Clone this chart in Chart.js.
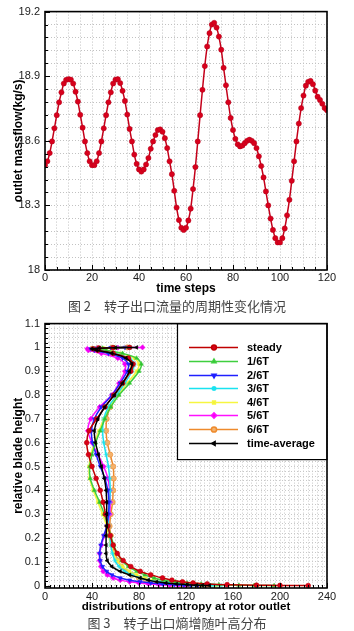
<!DOCTYPE html>
<html>
<head>
<meta charset="utf-8">
<script src="https://cdn.jsdelivr.net/npm/chart.js@4.4.1/dist/chart.umd.min.js"></script>
<style>
  html, body { margin: 0; padding: 0; background: #fff; width: 354px; height: 631px; overflow: hidden; }
  .box { position: absolute; left: 0; width: 354px; }
  #topBox { top: 0; height: 300px; }
  #botBox { top: 312px; height: 304px; }
  .cap { position: absolute; left: 0; width: 354px; text-align: center; font-family: "Noto Sans CJK SC", sans-serif; font-size: 13px; line-height: 16px; color: #444; }
</style>
</head>
<body>
<div class="box" id="topBox"><canvas id="flowChart"></canvas></div>
<div class="cap" style="top:298px">图 2　转子出口流量的周期性变化情况</div>
<div class="box" id="botBox"><canvas id="entropyChart"></canvas></div>
<div class="cap" style="top:615px">图 3　转子出口熵增随叶高分布</div>

<script>
// ─── Data: Fig.2 outlet massflow vs time step ───
const timeSteps = Array.from({ length: 121 }, (_, i) => i);
const massflow = [
  18.487, 18.505, 18.543, 18.597, 18.658, 18.719, 18.779, 18.825, 18.866, 18.883,
  18.886, 18.884, 18.866, 18.828, 18.782, 18.721, 18.661, 18.597, 18.543, 18.505,
  18.487, 18.487, 18.505, 18.543, 18.597, 18.658, 18.719, 18.779, 18.825, 18.866,
  18.884, 18.886, 18.868, 18.832, 18.785, 18.722, 18.655, 18.597, 18.536, 18.493,
  18.467, 18.457, 18.467, 18.490, 18.520, 18.563, 18.597, 18.627, 18.650, 18.653,
  18.642, 18.612, 18.566, 18.505, 18.445, 18.368, 18.290, 18.232, 18.196, 18.186,
  18.196, 18.230, 18.285, 18.376, 18.478, 18.597, 18.719, 18.837, 18.947, 19.038,
  19.100, 19.140, 19.148, 19.126, 19.084, 19.023, 18.939, 18.858, 18.779, 18.706,
  18.650, 18.609, 18.584, 18.574, 18.578, 18.589, 18.600, 18.605, 18.600, 18.589,
  18.566, 18.528, 18.483, 18.430, 18.365, 18.300, 18.239, 18.186, 18.148, 18.128,
  18.128, 18.148, 18.193, 18.254, 18.326, 18.414, 18.505, 18.597, 18.680, 18.752,
  18.810, 18.856, 18.874, 18.878, 18.863, 18.833, 18.805, 18.790, 18.772, 18.752,
  18.742
];
const flowTicksY = [18, 18.3, 18.6, 18.9, 19.2];
const flowTicksX = [0, 20, 40, 60, 80, 100, 120];

// ─── Data: Fig.3 entropy vs relative blade height ───
const heights = [
  0, 0.001, 0.002, 0.004, 0.007, 0.011, 0.016, 0.023, 0.032, 0.045, 0.06, 0.08, 0.105, 0.135, 0.17, 0.21, 0.25,
  0.3, 0.35, 0.4, 0.45, 0.5, 0.55, 0.6, 0.65, 0.7, 0.75, 0.8, 0.85, 0.9,
  0.93, 0.955, 0.975, 0.988, 0.994, 0.997, 0.999, 1.0
];
const seriesNames = ['steady', '1/6T', '2/6T', '3/6T', '4/6T', '5/6T', '6/6T', 'time-average'];
const steady = [
  224, 200, 180, 155, 138, 126, 117, 108, 100, 90, 81, 73, 66.5, 61.5, 58, 55.5, 53.5,
  51.5, 49.5, 47, 43.5, 40, 37, 35.5, 37.5, 44, 51, 58.5, 66, 73,
  75, 71, 58, 45, 41, 46, 58, 72
];
const t1 = [
  195, 178, 165, 148, 133, 121, 111, 101, 93, 85, 78, 71, 65.5, 61.5, 58.5, 56, 53.5,
  50.5, 46.5, 42, 38.5, 38, 40, 43, 47, 51, 56, 63, 72, 80,
  82, 78, 66, 52, 46, 49, 59, 72
];
const t2 = [
  130, 124, 118, 110, 100, 90, 81, 72, 64, 57, 52.5, 49, 47, 46.5, 47.5, 50, 52.5,
  54, 54.5, 53.5, 51, 47, 43.5, 40.5, 39.5, 42, 48, 57, 64, 70,
  71, 66, 54, 42, 39, 44, 56, 68
];
const t3 = [
  150, 143, 136, 127, 116, 106, 97, 88, 81, 74, 68, 63, 59.5, 57.5, 56, 55, 54,
  54, 55, 55.5, 55, 54, 52, 50, 49, 50, 54, 61, 68, 74,
  76, 72, 60, 47, 42, 46, 58, 72
];
const t4 = [
  145, 140, 134, 126, 117, 108, 100, 92, 85, 78, 72, 66, 61.5, 58.5, 56, 54, 52.5,
  49, 45, 41, 38, 37.5, 39, 42, 46, 50, 55, 62, 70, 78,
  80, 76, 64, 52, 47, 50, 60, 72
];
const t5 = [
  120, 113, 106, 97, 88, 80, 72, 64, 58, 53, 49.5, 47.5, 46.5, 46.5, 48, 50.5, 53,
  55, 55.5, 55, 53.5, 50, 45, 40, 36.5, 39, 46.5, 57, 63, 68,
  68, 62, 48, 37, 36, 45, 62, 83
];
const t6 = [
  136, 130, 124, 116, 108, 100, 93, 86, 80, 74, 69, 65, 62, 59.5, 57.5, 56, 55,
  56, 57.5, 58, 58.5, 58, 55.5, 53, 52, 52.5, 55.5, 61, 67, 72,
  74, 70, 58, 45, 40, 45, 57, 70
];
const timeAvg = [
  140, 134, 129, 121, 112, 103, 95, 88, 81, 72, 64, 57, 53, 52, 52, 52, 52.5,
  52.5, 52.5, 52, 50.5, 48, 45.5, 43, 42, 45, 51, 59, 66, 72,
  74, 69, 57, 44, 40, 46, 60, 78
];
const entropyTicksX = [0, 40, 80, 120, 160, 200, 240];
const heightTicksY = [0, 0.1, 0.2, 0.3, 0.4, 0.5, 0.6, 0.7, 0.8, 0.9, 1, 1.1];

// ─── Styles ───
const FONT = '"Liberation Sans", Arial, sans-serif';
const tickFont = { family: FONT, size: 11 };
const titleFont = { family: FONT, size: 12, weight: 'bold' };

const seriesStyle = [
  { line: '#c00000', fill: '#d8001a', shape: 'circle', r: 2.4, rot: 0 },
  { line: '#3fcf3f', fill: '#2fbf2f', shape: 'triangle', r: 2.4, rot: 0 },
  { line: '#2020ff', fill: '#2020ff', shape: 'triangle', r: 2.4, rot: 180 },
  { line: '#19e3f0', fill: '#10d8f0', shape: 'star', r: 2.6, rot: 0 },
  { line: '#f6f640', fill: '#f0f030', shape: 'rect', r: 2, rot: 0 },
  { line: '#ff10ff', fill: '#f000f0', shape: 'rectRot', r: 2.6, rot: 0 },
  { line: '#ee8a2c', fill: '#f4b26c', shape: 'circle', r: 2.6, rot: 0 },
  { line: '#000000', fill: '#000000', shape: 'triangle', r: 2.2, rot: 270 }
];

const near = (v, list) => list.some(m => Math.abs(m - v) < 1e-6);

// minor tick list from 0 up to max, every step (grid + inner ticks)
function minorTicks(max, step) {
  const out = [];
  const n = Math.round(max / step);
  for (let i = 0; i <= n; i++) out.push({ value: +(i * step).toFixed(4) });
  return out;
}

// ─── Plugins: frame + inward tick marks, and a boxed legend ───
const frameTicks = {
  id: 'frameTicks',
  afterDraw(chart, args, opts) {
    const { ctx, chartArea: a, scales: { x, y } } = chart;
    ctx.save();
    ctx.strokeStyle = '#000';
    ctx.lineWidth = 1;
    ctx.beginPath();
    x.ticks.forEach(t => {
      const px = Math.round(x.getPixelForValue(t.value)) + 0.5;
      const len = near(t.value, opts.xMajor) ? 5 : 3;
      ctx.moveTo(px, a.bottom); ctx.lineTo(px, a.bottom - len);
    });
    y.ticks.forEach(t => {
      const py = Math.round(y.getPixelForValue(t.value)) + 0.5;
      const len = near(t.value, opts.yMajor) ? 5 : 3;
      ctx.moveTo(a.left, py); ctx.lineTo(a.left + len, py);
    });
    ctx.stroke();
    ctx.lineWidth = 1.6;
    ctx.strokeRect(a.left, a.top, a.right - a.left, a.bottom - a.top);
    ctx.restore();
  }
};

const boxLegend = {
  id: 'boxLegend',
  afterDatasetsDraw(chart) {
    const { ctx, chartArea: a } = chart;
    const w = 150, h = 136;
    const left = a.right - w, top = a.top;
    ctx.save();
    ctx.fillStyle = '#fff';
    ctx.fillRect(left, top, w, h);
    ctx.strokeStyle = '#000';
    ctx.lineWidth = 1.2;
    ctx.strokeRect(left + 0.5, top, w - 0.5, h);
    ctx.font = 'bold 11px ' + FONT;
    ctx.textBaseline = 'middle';
    chart.data.datasets.forEach((ds, i) => {
      const yy = Math.round(top + 23.7 + i * 13.6) + 0.5;
      ctx.strokeStyle = ds.borderColor;
      ctx.lineWidth = 1.5;
      ctx.beginPath();
      ctx.moveTo(left + 12, yy); ctx.lineTo(left + 61, yy);
      ctx.stroke();
      ctx.fillStyle = ds.pointBackgroundColor;
      ctx.strokeStyle = ds.pointBorderColor;
      if (Chart.helpers && Chart.helpers.drawPoint) {
        Chart.helpers.drawPoint(ctx, { pointStyle: ds.pointStyle, rotation: ds.pointRotation, radius: ds.pointRadius, borderWidth: 1 }, left + 37, yy);
      }
      ctx.fillStyle = '#000';
      ctx.fillText(ds.label, left + 70, yy + 0.5);
    });
    ctx.restore();
  }
};

// ─── Fig.2 ───
new Chart(document.getElementById('flowChart'), {
  type: 'line',
  data: {
    datasets: [{
      data: timeSteps.map((t, i) => ({ x: t, y: massflow[i] })),
      borderColor: '#c4001a',
      borderWidth: 1.5,
      pointRadius: 2.6,
      pointBackgroundColor: '#d8001c',
      pointBorderColor: '#b0001a',
      pointBorderWidth: 0.5,
      tension: 0.3
    }]
  },
  options: {
    responsive: true,
    maintainAspectRatio: false,
    animation: false,
    layout: { padding: { top: 8, right: 27, left: 0, bottom: 0 } },
    plugins: {
      legend: { display: false },
      tooltip: { enabled: false },
      frameTicks: { xMajor: flowTicksX, yMajor: flowTicksY }
    },
    scales: {
      x: {
        type: 'linear', min: 0, max: 120,
        ticks: { stepSize: 5, autoSkip: false, maxRotation: 0, padding: 1, color: '#1a1a1a', font: tickFont,
          callback: v => near(v, flowTicksX) ? String(Math.round(v)) : '' },
        grid: { color: '#c2c2c2', lineWidth: 1, drawTicks: false },
        border: { display: false, dash: [1, 2] },
        title: { display: true, text: 'time steps', color: '#000', font: titleFont, padding: { top: 0, bottom: 4 } },
        afterFit: s => { s.height = 30; }
      },
      y: {
        min: 18, max: 19.2,
        ticks: { stepSize: 0.06, autoSkip: false, padding: 5, color: '#1a1a1a', font: tickFont,
          callback: v => near(v, flowTicksY) ? String(+v.toFixed(1)) : '' },
        grid: { color: '#c2c2c2', lineWidth: 1, drawTicks: false },
        border: { display: false, dash: [1, 2] },
        title: { display: true, text: 'outlet massflow(kg/s)', color: '#000', font: titleFont, padding: { top: 11, bottom: 0 } },
        afterFit: s => { s.width = 45; }
      }
    }
  },
  plugins: [frameTicks]
});

// ─── Fig.3 ───
const entropySeries = [steady, t1, t2, t3, t4, t5, t6, timeAvg];
new Chart(document.getElementById('entropyChart'), {
  type: 'scatter',
  data: {
    datasets: entropySeries.map((xs, k) => ({
      label: seriesNames[k],
      data: heights.map((h, i) => ({ x: xs[i], y: h })),
      showLine: true,
      borderColor: seriesStyle[k].line,
      borderWidth: 1.5,
      pointStyle: seriesStyle[k].shape,
      pointRotation: seriesStyle[k].rot,
      pointRadius: seriesStyle[k].r,
      pointBackgroundColor: seriesStyle[k].fill,
      pointBorderColor: seriesStyle[k].line,
      pointBorderWidth: 0.6,
      tension: 0.25,
      order: k === 7 ? 0 : 1
    }))
  },
  options: {
    responsive: true,
    maintainAspectRatio: false,
    animation: false,
    layout: { padding: { top: 10, right: 27, left: 0, bottom: 0 } },
    plugins: {
      legend: { display: false },
      tooltip: { enabled: false },
      frameTicks: { xMajor: entropyTicksX, yMajor: heightTicksY }
    },
    scales: {
      x: {
        type: 'linear', min: 0, max: 240,
        ticks: { stepSize: 4, autoSkip: false, maxRotation: 0, padding: 2, color: '#1a1a1a', font: tickFont,
          callback: v => near(v, entropyTicksX) ? String(Math.round(v)) : '' },
        grid: { color: '#c8c8c8', lineWidth: 1, drawTicks: false },
        border: { display: false, dash: [1, 2] },
        title: { display: true, text: 'distributions of entropy at rotor outlet', color: '#000', font: { family: FONT, size: 11.6, weight: 'bold' }, padding: { top: 0, bottom: 2 } },
        afterFit: s => { s.height = 28; }
      },
      y: {
        min: -0.01, max: 1.1,
        afterBuildTicks: s => { s.ticks = minorTicks(1.1, 0.02); },
        ticks: { autoSkip: false, padding: 5, color: '#1a1a1a', font: tickFont,
          callback: v => near(v, heightTicksY) ? String(+v.toFixed(1)) : '' },
        grid: { color: '#c8c8c8', lineWidth: 1, drawTicks: false },
        border: { display: false, dash: [1, 2] },
        title: { display: true, text: 'relative blade height', color: '#000', font: titleFont, padding: { top: 11, bottom: 0 } },
        afterFit: s => { s.width = 45; }
      }
    }
  },
  plugins: [frameTicks, boxLegend]
});
</script>
</body>
</html>
